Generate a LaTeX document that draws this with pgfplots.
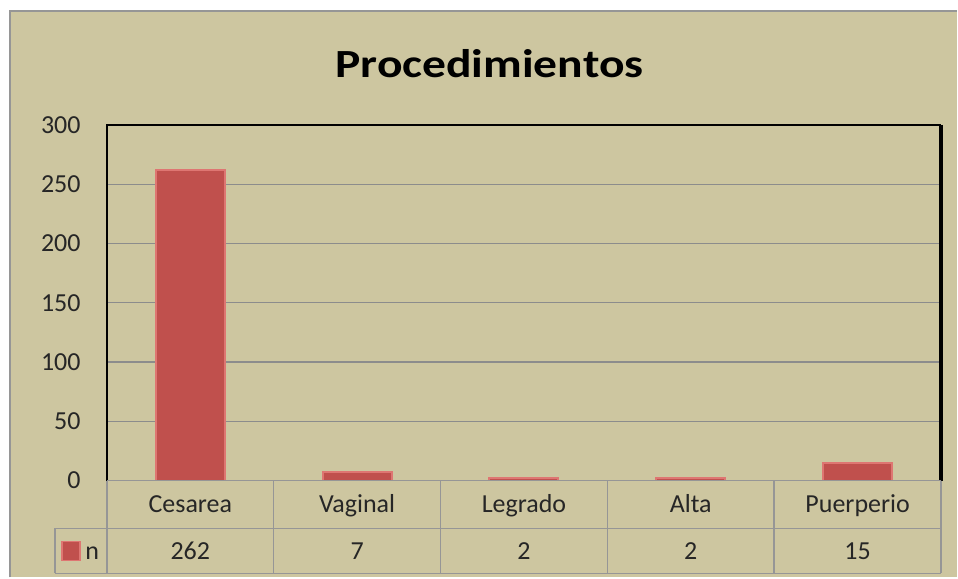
\documentclass[border=0pt]{standalone}
\usepackage{fontspec}
\setmainfont{Carlito}
\usepackage{pgfplots}
\pgfplotsset{compat=1.18}
\definecolor{bg}{RGB}{205,198,160}
\definecolor{barred}{RGB}{192,80,77}
\definecolor{barlight}{RGB}{222,118,114}
\definecolor{gridc}{RGB}{140,140,140}
\definecolor{tablec}{RGB}{150,150,150}
\begin{document}
\begin{tikzpicture}
\fill[white] (-53.5pt,-48.5pt) rectangle (425.5pt,240.5pt);
\fill[bg] (-48.5pt,-48.5pt) rectangle (425.5pt,235pt);
\draw[tablec, line width=1pt] (-48.5pt,-48.5pt) -- (-48.5pt,235pt) -- (425.5pt,235pt);
\begin{axis}[at={(0,0)}, anchor=south west, scale only axis,
  width=417.5pt, height=178pt,
  xmin=-0.5, xmax=4.5, ymin=0, ymax=300,
  ytick={0,50,...,300},
  xtick={0,...,4},
  xticklabels={Cesarea,Vaginal,Legrado,Alta,Puerperio},
  major tick length=0pt,
  axis line style={draw=none},
  ymajorgrids, grid style={gridc, line width=0.6pt},
  tick label style={font=\fontsize{13}{15}\selectfont, text=black!85},
  /pgf/number format/assume math mode=true,
  yticklabel style={anchor=east, inner sep=0pt, xshift=-13pt},
  xticklabel style={anchor=base, inner sep=0pt, yshift=-16pt},
  ybar, bar width=34.5pt, clip=false]
\addplot[fill=barred, draw=barlight, line width=1pt] coordinates {(0,262) (1,7) (2,2) (3,2) (4,15)};
\end{axis}
% plot frame
\draw[black, line width=0.8pt] (0,0) -- (0,178pt) -- (417.5pt,178pt);
\draw[black, line width=1.6pt] (417.5pt,178pt) -- (417.5pt,0);
% data table
\draw[tablec, line width=0.7pt] (0,0) -- (417.5pt,0);
\draw[tablec, line width=0.7pt] (-26pt,-24pt) -- (417.5pt,-24pt);
\draw[tablec, line width=0.7pt] (-26pt,-46.5pt) -- (417.5pt,-46.5pt);
\draw[tablec, line width=0.7pt] (-26pt,-24pt) -- (-26pt,-46.5pt);
\foreach \x in {0,83.5,167,250.5,334,417.5}{
  \draw[tablec, line width=0.7pt] (\x pt,0) -- (\x pt,-46.5pt);
}
\fill[barred] (-22.5pt,-30.5pt) rectangle (-13.5pt,-40pt);
\draw[barlight, line width=0.6pt] (-22.5pt,-30.5pt) rectangle (-13.5pt,-40pt);
\node[anchor=base west, inner sep=0pt, font=\fontsize{13}{15}\selectfont, text=black!85] at (-11pt,-39.5pt) {n};
\foreach \i/\v in {0/262,1/7,2/2,3/2,4/15}{
  \node[anchor=base, inner sep=0pt, font=\fontsize{13}{15}\selectfont, text=black!85] at (41.75pt+83.5pt*\i,-39.5pt) {\v};
}
% title
\node[anchor=base, inner sep=0pt, font=\bfseries\fontsize{20}{24}\selectfont, xscale=1.19, transform shape] at (191.5pt,201.5pt) {Procedimientos};
\end{tikzpicture}
\end{document}
